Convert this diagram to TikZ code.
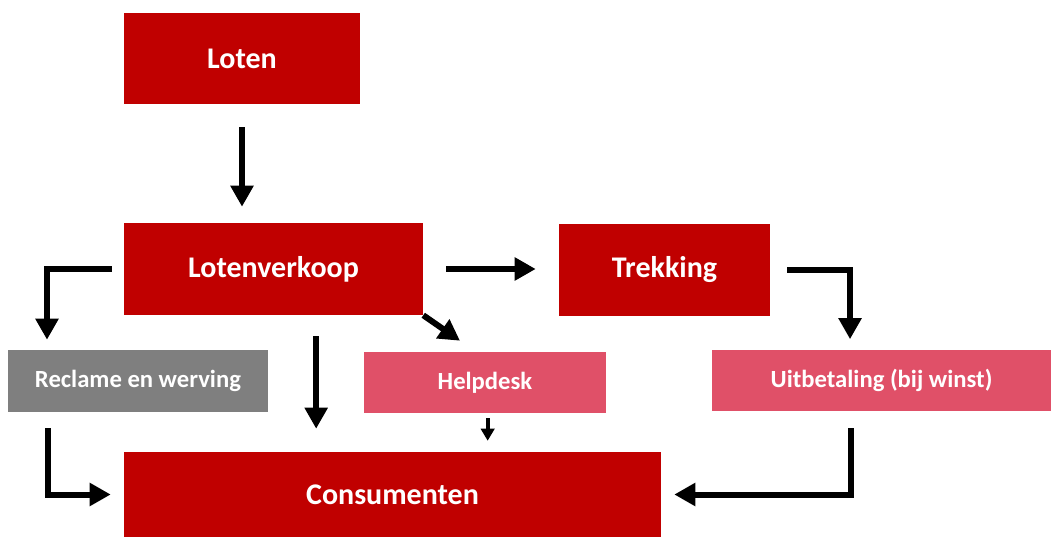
\documentclass[tikz,border=0pt]{standalone}
\usepackage{fontspec}
\setmainfont{Carlito}
\usetikzlibrary{arrows.meta}
\definecolor{donkerrood}{HTML}{C00000}
\definecolor{roze}{HTML}{E05068}
\definecolor{grijs}{HTML}{7F7F7F}
\begin{document}
\begin{tikzpicture}[x=0.75pt,y=0.75pt,
  blok/.style={fill=#1,text=white,font=\bfseries,inner sep=0pt},
  groot/.style={font=\fontsize{22.5}{27}\selectfont\bfseries},
  klein/.style={font=\fontsize{18.5}{22}\selectfont\bfseries},
  pijl/.style={line width=4.5pt,-{Triangle[length=15.75pt,width=16.5pt]}}]
\useasboundingbox (0,0) rectangle (1051,537);
\node[blok=donkerrood,groot,minimum width=177pt,minimum height=68.25pt] (loten) at (242,478.5) {Loten};
\node[blok=donkerrood,groot,minimum width=224.25pt,minimum height=69pt] (verkoop) at (273.5,268) {Lotenverkoop};
\node[blok=donkerrood,groot,minimum width=158.25pt,minimum height=69pt] (trekking) at (664.5,267) {Trekking};
\node[blok=grijs,klein,minimum width=195pt,minimum height=46.5pt] (reclame) at (138,156) {Reclame en werving};
\node[blok=roze,klein,minimum width=181.5pt,minimum height=45.75pt] (helpdesk) at (485,154.5) {Helpdesk};
\node[blok=roze,klein,minimum width=254.25pt,minimum height=45.75pt] (uitbetaling) at (881.5,156.5) {Uitbetaling (bij winst)};
\node[blok=donkerrood,groot,minimum width=402.75pt,minimum height=63.75pt] (consumenten) at (392.5,42.5) {Consumenten};
\draw[pijl,shorten <=17.25pt,shorten >=12pt] (loten.south) -- (loten.south |- verkoop.north);
\draw[pijl] ([xshift=-9pt]verkoop.west) -| ([xshift=-68.25pt,yshift=7.5pt]reclame.north);
\draw[pijl,shorten <=15.75pt,shorten >=17.25pt] ([xshift=32pt]verkoop.south) -- ([xshift=32pt]verkoop.south |- consumenten.north);
\draw[pijl] (verkoop.south east) -- ([xshift=-18.75pt,yshift=8.25pt]helpdesk.north);
\draw[pijl,shorten <=17.25pt,shorten >=17.25pt] (verkoop.east) -- (verkoop.east -| trekking.west);
\draw[pijl] ([xshift=12.75pt]trekking.east) -| ([xshift=-23.6pt,yshift=7.9pt]uitbetaling.north);
\draw[pijl] ([xshift=-67.5pt,yshift=-12pt]reclame.south) |- ([xshift=-9.75pt]consumenten.west);
\draw[line width=3pt,-{Triangle[length=9pt,width=10pt]},shorten <=3.75pt,shorten >=8.25pt] ([xshift=2pt]helpdesk.south) -- ([xshift=2pt]helpdesk.south |- consumenten.north);
\draw[pijl] ([xshift=-22.9pt,yshift=-12.75pt]uitbetaling.south) |- ([xshift=9.75pt]consumenten.east);
\end{tikzpicture}
\end{document}
